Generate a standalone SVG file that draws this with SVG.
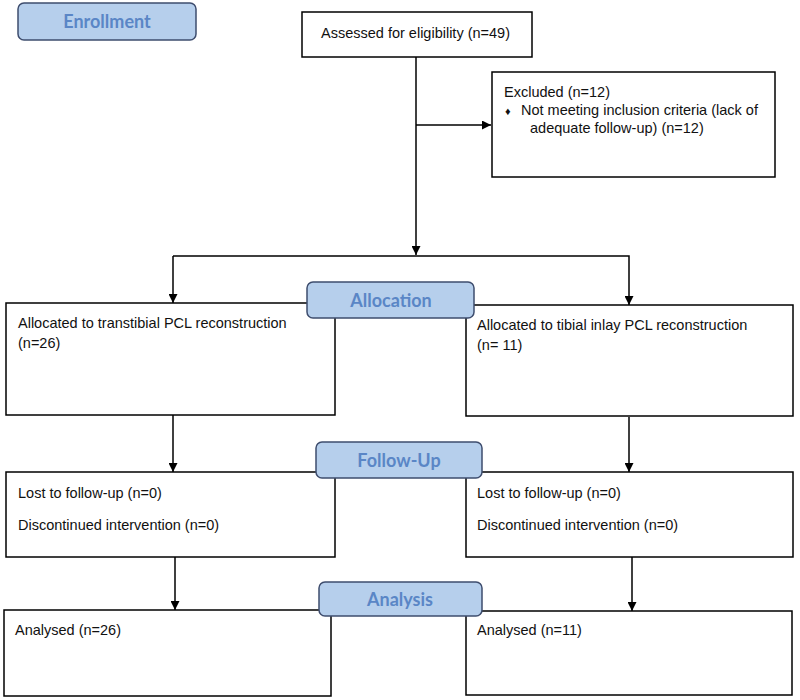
<svg xmlns="http://www.w3.org/2000/svg" width="800" height="700" viewBox="0 0 800 700">
<defs>
<marker id="arr" viewBox="0 0 10 10" refX="10" refY="5" markerWidth="9" markerHeight="9" markerUnits="userSpaceOnUse" orient="auto">
<path d="M0,0 L10,5 L0,10 z" fill="#000"/>
</marker>
</defs>
<style>
.box{fill:#fff;stroke:#000;stroke-width:1.5}
.lab{fill:#b6cfec;stroke:#3e4d6e;stroke-width:1.5}
.t{font-family:"Liberation Sans",Arial,sans-serif;font-size:14.5px;fill:#111}
.lt{font-family:Lato,"Open Sans",sans-serif;font-weight:bold;font-size:18px;fill:#5a86c6;text-anchor:middle}
.c{fill:none;stroke:#000;stroke-width:1.5}
</style>
<rect width="800" height="700" fill="#fff"/>
<g id="enrollment">
<rect class="lab" x="18" y="3" width="178" height="37" rx="6"/>
<text class="lt" x="107" y="28">Enrollment</text>
</g>
<g id="assessed">
<rect class="box" x="302" y="12" width="230" height="45"/>
<text class="t" x="321" y="38">Assessed for eligibility (n=49)</text>
</g>
<g id="excluded">
<rect class="box" x="492" y="72" width="283" height="105"/>
<text class="t" x="504" y="97">Excluded (n=12)</text>
<text class="t" x="505" y="115" style="font-size:11px">♦</text>
<text class="t" x="521" y="115">Not meeting inclusion criteria (lack of</text>
<text class="t" x="530" y="133">adequate follow-up) (n=12)</text>
</g>
<g id="connectors">
<path class="c" d="M416,57 V255" marker-end="url(#arr)"/>
<path class="c" d="M416,125 H491" marker-end="url(#arr)"/>
<path class="c" d="M173,256 H629 V305" marker-end="url(#arr)"/>
<path class="c" d="M173,256 V303" marker-end="url(#arr)"/>
<path class="c" d="M173,415 V472" marker-end="url(#arr)"/>
<path class="c" d="M629,417 V472" marker-end="url(#arr)"/>
<path class="c" d="M175,557 V610" marker-end="url(#arr)"/>
<path class="c" d="M632,557 V611" marker-end="url(#arr)"/>
</g>
<g id="alloc-left">
<rect class="box" x="6" y="303" width="329" height="112"/>
<text class="t" x="18" y="328">Allocated to transtibial PCL reconstruction</text>
<text class="t" x="18" y="348">(n=26)</text>
</g>
<g id="alloc-right">
<rect class="box" x="466" y="305" width="327" height="111"/>
<text class="t" x="477" y="330">Allocated to tibial inlay PCL reconstruction</text>
<text class="t" x="477" y="350">(n= 11)</text>
</g>
<g id="allocation">
<rect class="lab" x="307" y="282" width="167" height="36" rx="6"/>
<text class="lt" x="391" y="307">Allocation</text>
</g>
<g id="follow-left">
<rect class="box" x="6" y="472" width="329" height="85"/>
<text class="t" x="18" y="498">Lost to follow-up (n=0)</text>
<text class="t" x="18" y="530">Discontinued intervention (n=0)</text>
</g>
<g id="follow-right">
<rect class="box" x="466" y="472" width="327" height="85"/>
<text class="t" x="477" y="498">Lost to follow-up (n=0)</text>
<text class="t" x="477" y="530">Discontinued intervention (n=0)</text>
</g>
<g id="followup">
<rect class="lab" x="316" y="442" width="166" height="36" rx="6"/>
<text class="lt" x="399" y="467">Follow-Up</text>
</g>
<g id="analysed-left">
<rect class="box" x="4" y="610" width="327" height="86"/>
<text class="t" x="15" y="635">Analysed (n=26)</text>
</g>
<g id="analysed-right">
<rect class="box" x="466" y="611" width="326" height="84"/>
<text class="t" x="477" y="635">Analysed (n=11)</text>
</g>
<g id="analysis">
<rect class="lab" x="319" y="582" width="163" height="34" rx="6"/>
<text class="lt" x="400" y="606">Analysis</text>
</g>
</svg>
